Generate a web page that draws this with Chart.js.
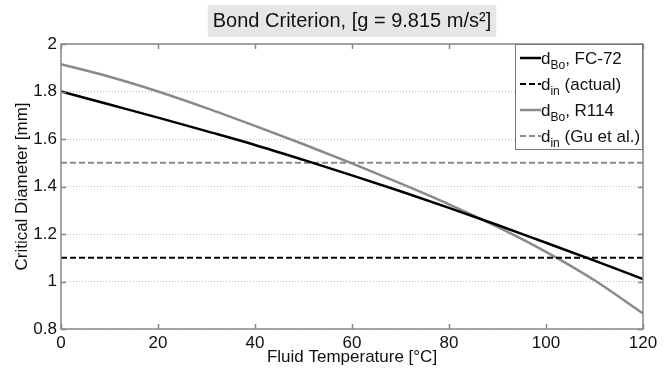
<!DOCTYPE html>
<html>
<head>
<meta charset="utf-8">
<title>Bond Criterion</title>
<script src="https://cdn.jsdelivr.net/npm/chart.js@4.4.0/dist/chart.umd.min.js"></script>
<style>
  body { margin: 0; background: #fff; }
  canvas { display: block; }
</style>
</head>
<body>
<canvas id="bondChart" width="672" height="370"></canvas>
<script>
// values
const temps = [0, 10, 20, 30, 40, 50, 60, 70, 80, 90, 100, 110, 120];
const dBoFC72 = [1.80, 1.745, 1.69, 1.633, 1.575, 1.512, 1.447, 1.38, 1.31, 1.238, 1.163, 1.088, 1.01];
const dBoR114 = [1.915, 1.862, 1.80, 1.73, 1.655, 1.578, 1.497, 1.413, 1.325, 1.23, 1.125, 1.005, 0.865];
const lineEnds = [0, 120];
const dInActual = [1.1, 1.1];
const dInGu = [1.5, 1.5];

const xTickValues = [0, 20, 40, 60, 80, 100, 120];
const yTickValues = [0.8, 1, 1.2, 1.4, 1.6, 1.8, 2];

const legendSubs = ['Bo', 'in', 'Bo', 'in'];
const legendRest = [', FC-72', ' (actual)', ', R114', ' (Gu et al.)'];

const titleText = 'Bond Criterion, [g = 9.815 m/s\u00B2]';
const fontFamily = '"Liberation Sans", Arial, sans-serif';
const grey = '#8a8a8a';

function toPoints(xs, ys) {
    return xs.map((x, i) => ({ x: x, y: ys[i] }));
}

const framePlugin = {
    id: 'frame',
    beforeDraw(chart) {
        // grey box behind the title
        const t = chart.titleBlock;
        const ctx = chart.ctx;
        ctx.save();
        ctx.font = '20px ' + fontFamily;
        const w = ctx.measureText(titleText).width;
        const cx = (t.left + t.right) / 2;
        ctx.fillStyle = '#e6e6e6';
        ctx.fillRect(cx - w / 2 - 5, 5, w + 10, 32);
        ctx.restore();
    },
    afterDatasetsDraw(chart) {
        const ctx = chart.ctx;
        const a = chart.chartArea;
        const xs = chart.scales.x;
        const ys = chart.scales.y;
        ctx.save();
        ctx.strokeStyle = '#888';
        ctx.lineWidth = 1.5;
        ctx.beginPath();
        for (let t of xs.ticks) {
            const px = Math.round(xs.getPixelForValue(t.value)) + 0.5;
            ctx.moveTo(px, a.bottom); ctx.lineTo(px, a.bottom - 5);
            ctx.moveTo(px, a.top); ctx.lineTo(px, a.top + 5);
        }
        for (let t of ys.ticks) {
            const py = Math.round(ys.getPixelForValue(t.value)) + 0.5;
            ctx.moveTo(a.left, py); ctx.lineTo(a.left + 5, py);
            ctx.moveTo(a.right, py); ctx.lineTo(a.right - 5, py);
        }
        ctx.stroke();
        ctx.strokeRect(a.left, a.top, a.right - a.left, a.bottom - a.top);
        ctx.restore();
    },
    afterDraw(chart) {
        // legend with subscripts
        const ctx = chart.ctx;
        const a = chart.chartArea;
        const lw = 128, lh = 106;
        const lx = a.right - lw, ly = a.top;
        ctx.save();
        ctx.fillStyle = '#fff';
        ctx.fillRect(lx, ly, lw, lh);
        ctx.strokeStyle = '#777';
        ctx.lineWidth = 1;
        ctx.strokeRect(lx + 0.5, ly + 0.5, lw - 1, lh - 1);
        chart.data.datasets.forEach((ds, i) => {
            const y = ly + 14 + i * 26;
            ctx.strokeStyle = ds.borderColor;
            ctx.lineWidth = ds.borderWidth;
            ctx.setLineDash(ds.borderDash || []);
            ctx.beginPath();
            ctx.moveTo(lx + 5, y);
            ctx.lineTo(lx + 26, y);
            ctx.stroke();
            ctx.setLineDash([]);
            ctx.fillStyle = '#111';
            ctx.textBaseline = 'alphabetic';
            let x = lx + 26;
            ctx.font = '17px ' + fontFamily;
            ctx.fillText('d', x, y + 6);
            x += ctx.measureText('d').width;
            ctx.font = '12px ' + fontFamily;
            ctx.fillText(legendSubs[i], x, y + 11);
            x += ctx.measureText(legendSubs[i]).width;
            ctx.font = '17px ' + fontFamily;
            ctx.fillText(legendRest[i], x, y + 6);
        });
        ctx.restore();
    }
};

const ctx = document.getElementById('bondChart').getContext('2d');
new Chart(ctx, {
    type: 'line',
    data: {
        datasets: [{
            label: 'dBo, FC-72',
            data: toPoints(temps, dBoFC72),
            borderColor: '#000',
            borderWidth: 2.5
        }, {
            label: 'din (actual)',
            data: toPoints(lineEnds, dInActual),
            borderColor: '#000',
            borderWidth: 2,
            borderDash: [6, 3]
        }, {
            label: 'dBo, R114',
            data: toPoints(temps, dBoR114),
            borderColor: grey,
            borderWidth: 2.5
        }, {
            label: 'din (Gu et al.)',
            data: toPoints(lineEnds, dInGu),
            borderColor: grey,
            borderWidth: 2,
            borderDash: [6, 3]
        }]
    },
    options: {
        responsive: false,
        animation: false,
        devicePixelRatio: 1,
        elements: { point: { radius: 0 }, line: { cubicInterpolationMode: 'monotone' } },
        layout: { padding: { left: 0, right: 29, top: 0, bottom: 0 } },
        plugins: {
            legend: { display: false },
            tooltip: { enabled: false },
            title: {
                display: true,
                text: titleText,
                fullSize: false,
                color: '#111',
                font: { family: fontFamily, size: 20, weight: 'normal', lineHeight: 1.2 },
                padding: { top: 9, bottom: 11 }
            }
        },
        scales: {
            x: {
                type: 'linear',
                min: 0,
                max: 120,
                afterBuildTicks: s => { s.ticks = xTickValues.map(v => ({ value: v })); },
                afterFit: s => { s.height = 41; },
                grid: { display: false },
                border: { display: false },
                ticks: {
                    color: '#111',
                    padding: -4,
                    maxRotation: 0,
                    font: { family: fontFamily, size: 17 },
                    callback: v => String(v)
                },
                title: {
                    display: true,
                    text: 'Fluid Temperature [°C]',
                    color: '#111',
                    font: { family: fontFamily, size: 17 },
                    padding: { top: 0, bottom: 2 }
                }
            },
            y: {
                type: 'linear',
                min: 0.8,
                max: 2,
                afterBuildTicks: s => { s.ticks = yTickValues.map(v => ({ value: v })); },
                afterFit: s => { s.width = 61; },
                grid: { color: '#bdbdbd', lineWidth: 1, drawTicks: false },
                border: { display: false, dash: [1, 2] },
                ticks: {
                    color: '#111',
                    padding: 4,
                    font: { family: fontFamily, size: 17 },
                    callback: v => String(v)
                },
                title: {
                    display: true,
                    text: 'Critical Diameter [mm]',
                    color: '#111',
                    font: { family: fontFamily, size: 17 },
                    padding: { top: 12, bottom: 0 }
                }
            }
        }
    },
    plugins: [framePlugin]
});
</script>
</body>
</html>
